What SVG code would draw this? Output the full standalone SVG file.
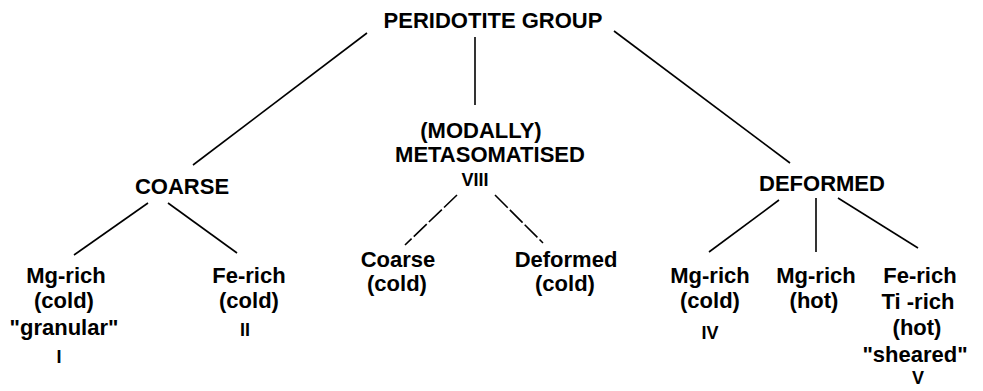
<svg xmlns="http://www.w3.org/2000/svg" width="983" height="391" viewBox="0 0 983 391">
<style>
text{font-family:"Liberation Sans",Arial,sans-serif;font-weight:bold;font-size:22px;fill:#000;text-anchor:middle}
text.n{font-size:18px}
.c line{stroke:#000;stroke-width:1.6}
.c line.d{stroke-dasharray:18 3}
</style>
<rect width="983" height="391" fill="#fff"/>
<g class="c" id="connectors">
<line x1="367" y1="33" x2="193" y2="165"/>
<line x1="475" y1="37" x2="475" y2="105"/>
<line x1="614" y1="31" x2="790" y2="163"/>
<line x1="148" y1="203" x2="74" y2="255"/>
<line x1="168" y1="203" x2="237" y2="253"/>
<line class="d" x1="457" y1="195" x2="405" y2="245"/>
<line class="d" x1="495" y1="195" x2="543" y2="243"/>
<line x1="779" y1="200" x2="709" y2="252"/>
<line x1="816" y1="198" x2="816" y2="252"/>
<line x1="838" y1="198" x2="918" y2="248"/>
</g>
<g id="root"><text x="493" y="28">PERIDOTITE GROUP</text></g>
<g id="coarse"><text x="182" y="194">COARSE</text></g>
<g id="metasomatised"><text x="481" y="138">(MODALLY)</text><text x="490" y="162">METASOMATISED</text><text class="n" x="475" y="186">VIII</text></g>
<g id="deformed"><text x="822" y="191">DEFORMED</text></g>
<g id="coarse-mg"><text x="66" y="283">Mg-rich</text><text x="64" y="308">(cold)</text><text x="64" y="335">"granular"</text><text class="n" x="59" y="363">I</text></g>
<g id="coarse-fe"><text x="249" y="283">Fe-rich</text><text x="249" y="308">(cold)</text><text class="n" x="245" y="336">II</text></g>
<g id="meta-coarse"><text x="398" y="267">Coarse</text><text x="397" y="291">(cold)</text></g>
<g id="meta-deformed"><text x="566" y="267">Deformed</text><text x="565" y="291">(cold)</text></g>
<g id="def-mg-cold"><text x="710" y="283">Mg-rich</text><text x="710" y="308">(cold)</text><text class="n" x="710" y="339">IV</text></g>
<g id="def-mg-hot"><text x="816" y="283">Mg-rich</text><text x="814" y="308">(hot)</text></g>
<g id="def-fe-ti"><text x="920" y="283">Fe-rich</text><text x="918" y="309">Ti -rich</text><text x="917" y="335">(hot)</text><text x="915" y="362">"sheared"</text><text class="n" x="918" y="384">V</text></g>
</svg>
